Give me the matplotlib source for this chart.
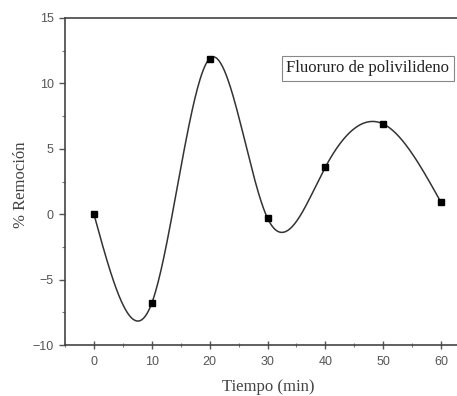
import numpy as np
import matplotlib
matplotlib.use("Agg")
import matplotlib.pyplot as plt

# Measured removal over time
tiempo = [0, 10, 20, 30, 40, 50, 60]
remocion = [0.0, -6.8, 11.9, -0.3, 3.6, 6.9, 0.9]
serie = "Fluoruro de polivilideno"


def natural_spline(x, y, xs):
    """Natural cubic spline through (x, y) evaluated at xs."""
    x = np.asarray(x, float)
    y = np.asarray(y, float)
    n = len(x)
    h = np.diff(x)
    A = np.zeros((n, n))
    b = np.zeros(n)
    A[0, 0] = A[-1, -1] = 1.0
    for i in range(1, n - 1):
        A[i, i - 1] = h[i - 1]
        A[i, i] = 2 * (h[i - 1] + h[i])
        A[i, i + 1] = h[i]
        b[i] = 3 * ((y[i + 1] - y[i]) / h[i] - (y[i] - y[i - 1]) / h[i - 1])
    c = np.linalg.solve(A, b)
    bb = (np.diff(y) / h) - h * (2 * c[:-1] + c[1:]) / 3
    d = np.diff(c) / (3 * h)
    idx = np.clip(np.searchsorted(x, xs) - 1, 0, n - 2)
    dx = xs - x[idx]
    return y[idx] + bb[idx] * dx + c[idx] * dx ** 2 + d[idx] * dx ** 3


fig = plt.figure(figsize=(4.57, 3.96), dpi=100)
# axes run a little past the right edge of the canvas
ax = fig.add_axes([65 / 457, 51 / 396, 405 / 457, 327 / 396])

xs = np.linspace(tiempo[0], tiempo[-1], 400)
ax.plot(xs, natural_spline(tiempo, remocion, xs), color="#333333", lw=1.1)
ax.plot(tiempo, remocion, "s", color="black", ms=4.5)

ax.set_xlim(-5, 65)
ax.set_ylim(-10, 15)
ax.set_xticks([0, 10, 20, 30, 40, 50, 60])
ax.set_xticks(np.arange(-5, 65, 5), minor=True)
ax.set_yticks([-10, -5, 0, 5, 10, 15])
ax.set_yticks(np.arange(-10, 15, 2.5), minor=True)

for s in ax.spines.values():
    s.set_color("#444444")
    s.set_linewidth(1.2)
ax.spines["right"].set_visible(False)

ax.tick_params(axis="y", which="major", direction="out", length=4, width=1,
               color="#555555", labelsize=9, labelcolor="#555555", pad=4)
ax.tick_params(axis="y", which="minor", direction="out", length=2.5, width=0.8,
               color="#777777")
ax.tick_params(axis="x", which="major", direction="inout", length=6, width=1,
               color="#555555", labelsize=9, labelcolor="#555555", pad=5)
ax.tick_params(axis="x", which="minor", direction="inout", length=3, width=0.8,
               color="#777777")
for lab in ax.get_xticklabels() + ax.get_yticklabels():
    lab.set_family("Liberation Sans")

ax.set_xlabel("Tiempo (min)", family="Liberation Serif", fontsize=12,
              color="#444444")
ax.set_ylabel("% Remoción", family="Liberation Serif", fontsize=12,
              color="#444444")
ax.xaxis.set_label_coords(203 / 405, -34 / 327)
ax.yaxis.set_label_coords(-36 / 405, 0.49)

ax.text(368 / 457, 327.5 / 396, serie, transform=fig.transFigure,
        family="Liberation Serif", fontsize=12, color="#222222",
        ha="center", va="center",
        bbox=dict(boxstyle="square,pad=0.25", fc="white", ec="#888888", lw=0.8))

fig.savefig("out.png", dpi=100)
